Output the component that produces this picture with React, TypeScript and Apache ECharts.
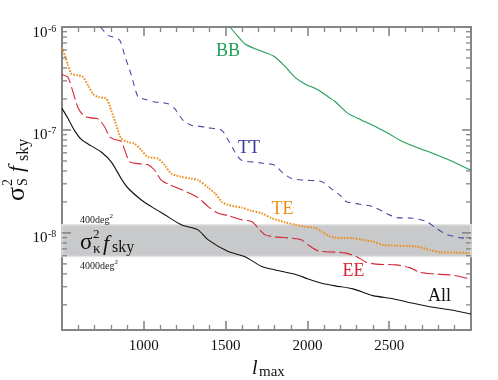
import React, { useEffect, useRef } from 'react';
import * as echarts from 'echarts';

const FONT = '"Liberation Serif", "Times New Roman", serif';

const X_MIN = 500;
const X_MAX = 3000;
const X_INTERVAL = 500;
const Y_MIN = 1.14e-9;
const Y_MAX = 1e-6;
const Y_LABEL_EXPONENTS = [-8, -7, -6];

const allL = [500, 537, 578, 618, 679, 740, 801, 862, 903, 985, 1046, 1128, 1229, 1331, 1394, 1516, 1619, 1721, 1802, 1924, 2005, 2087, 2169, 2279, 2401, 2523, 2645, 2747, 2870, 3000];
const allV = [1.62e-7, 1.29e-7, 9.8e-8, 8.1e-8, 7.0e-8, 6.1e-8, 4.9e-8, 3.37e-8, 2.73e-8, 2.09e-8, 1.8e-8, 1.5e-8, 1.2e-8, 1.07e-8, 8.55e-9, 6.58e-9, 5.88e-9, 4.71e-9, 4.37e-9, 3.97e-9, 3.57e-9, 3.25e-9, 3.06e-9, 2.86e-9, 2.46e-9, 2.29e-9, 2.07e-9, 1.92e-9, 1.79e-9, 1.63e-9];

const eeL = [500, 537, 567, 598, 634, 677, 720, 761, 792, 822, 862, 883, 914, 965, 1026, 1067, 1107, 1160, 1209, 1262, 1331, 1394, 1455, 1516, 1598, 1659, 1700, 1741, 1802, 1904, 1965, 2005, 2067, 2169, 2238, 2299, 2360, 2421, 2543, 2625, 2686, 2768, 2870, 2931, 3000];
const eeV = [3.46e-7, 3.23e-7, 2.34e-7, 1.64e-7, 1.37e-7, 1.31e-7, 1.28e-7, 1.07e-7, 8.55e-8, 8.09e-8, 7.73e-8, 6.4e-8, 4.89e-8, 4.71e-8, 4.6e-8, 4.06e-8, 3.25e-8, 2.92e-8, 2.72e-8, 2.5e-8, 2.2e-8, 1.8e-8, 1.55e-8, 1.47e-8, 1.34e-8, 1.29e-8, 1.11e-8, 9.57e-9, 9.15e-9, 8.89e-9, 8.55e-9, 7.64e-9, 6.68e-9, 6.5e-9, 6.36e-9, 5.89e-9, 5.2e-9, 4.97e-9, 4.89e-9, 4.6e-9, 4.15e-9, 4.0e-9, 3.91e-9, 3.77e-9, 3.55e-9];

const teL = [500, 517, 537, 557, 598, 628, 659, 689, 720, 771, 801, 832, 862, 903, 944, 985, 1026, 1087, 1128, 1168, 1229, 1290, 1331, 1394, 1435, 1476, 1516, 1598, 1659, 1721, 1782, 1863, 1924, 1985, 2046, 2087, 2128, 2169, 2279, 2340, 2401, 2462, 2543, 2666, 2747, 2809, 2910, 3000];
const teV = [6.32e-7, 5.31e-7, 4.25e-7, 3.52e-7, 3.4e-7, 3.27e-7, 2.72e-7, 2.25e-7, 2.09e-7, 2.01e-7, 1.55e-7, 1.11e-7, 8.24e-8, 7.64e-8, 7.36e-8, 6.35e-8, 5.47e-8, 5.26e-8, 4.54e-8, 3.77e-8, 3.5e-8, 3.37e-8, 3.27e-8, 2.75e-8, 2.43e-8, 2.01e-8, 1.87e-8, 1.76e-8, 1.64e-8, 1.55e-8, 1.39e-8, 1.27e-8, 1.2e-8, 1.15e-8, 1.12e-8, 1.03e-8, 9.42e-9, 9.0e-9, 8.89e-9, 8.55e-9, 8.24e-9, 7.64e-9, 7.53e-9, 7.36e-9, 6.84e-9, 6.5e-9, 6.44e-9, 6.35e-9];

const ttL = [735, 781, 812, 853, 883, 924, 965, 1005, 1067, 1148, 1189, 1240, 1290, 1331, 1394, 1476, 1516, 1557, 1598, 1721, 1802, 1843, 1904, 1985, 2087, 2156, 2197, 2238, 2320, 2401, 2482, 2543, 2645, 2727, 2788, 2849, 2931, 3000];
const ttV = [1.0e-6, 8.3e-7, 8.0e-7, 7.43e-7, 5.31e-7, 3.4e-7, 2.09e-7, 1.99e-7, 1.87e-7, 1.8e-7, 1.61e-7, 1.24e-7, 1.11e-7, 1.09e-7, 1.05e-7, 9.93e-8, 7.94e-8, 6.11e-8, 5.08e-8, 4.78e-8, 4.54e-8, 3.91e-8, 3.37e-8, 3.25e-8, 3.15e-8, 2.61e-8, 2.34e-8, 2.01e-8, 1.9e-8, 1.8e-8, 1.55e-8, 1.41e-8, 1.39e-8, 1.29e-8, 1.11e-8, 9.7e-9, 9.0e-9, 8.79e-9];

const bbL = [1527, 1578, 1619, 1669, 1741, 1802, 1863, 1924, 1985, 2067, 2128, 2169, 2248, 2329, 2421, 2493, 2574, 2666, 2768, 2870, 3000];
const bbV = [1.0e-6, 8.0e-7, 6.84e-7, 6.25e-7, 5.65e-7, 5.12e-7, 4.14e-7, 3.24e-7, 2.8e-7, 2.44e-7, 2.09e-7, 1.89e-7, 1.45e-7, 1.25e-7, 1.07e-7, 9.29e-8, 7.82e-8, 6.79e-8, 5.91e-8, 5.08e-8, 4.05e-8];

const BAND_LOW = 5.9e-9;
const BAND_HIGH = 1.2e-8;

const AXIS_GRAY = '#858585';
const C_BB = '#1f9e55';
const C_TT = '#3a3a9a';
const C_TE = '#ef8d1c';
const C_EE = '#d62535';
const C_ALL = '#111111';

const zip = (xs: number[], ys: number[]) => xs.map((x, i) => [x, ys[i]]);

function xAxisCfg(position: 'bottom' | 'top') {
  return {
    type: 'value',
    position,
    min: X_MIN,
    max: X_MAX,
    interval: X_INTERVAL,
    axisLine: { show: true, onZero: false, lineStyle: { color: AXIS_GRAY, width: 2 } },
    axisTick: { show: true, inside: true, length: 9, lineStyle: { color: AXIS_GRAY, width: 1.6 } },
    minorTick: { show: true, splitNumber: 5, length: 5, lineStyle: { color: AXIS_GRAY, width: 1.3 } },
    axisLabel: {
      show: position === 'bottom',
      showMinLabel: false,
      showMaxLabel: false,
      margin: 7,
      fontFamily: FONT,
      fontSize: 15,
      color: '#111',
      formatter: (v: number) => String(v),
    },
    splitLine: { show: false },
    minorSplitLine: { show: false },
  };
}

function yAxisCfg(position: 'left' | 'right') {
  return {
    type: 'log',
    logBase: 10,
    position,
    min: Y_MIN,
    max: Y_MAX,
    axisLine: { show: true, onZero: false, lineStyle: { color: AXIS_GRAY, width: 2 } },
    axisTick: { show: false },
    axisLabel: { show: false },
    splitLine: { show: false },
  };
}

function lineSeries(name: string, xs: number[], ys: number[], color: string, type: any, width: number, z: number) {
  return {
    name,
    type: 'line',
    data: zip(xs, ys),
    showSymbol: false,
    symbol: 'none',
    smooth: 0.25,
    clip: true,
    z,
    lineStyle: { color, width, type, cap: 'butt' },
  };
}

export default function App() {
  const ref = useRef<HTMLDivElement>(null);
  useEffect(() => {
    const chart = echarts.init(ref.current!, null, { renderer: 'svg' });
    const option: any = {
      animation: false,
      grid: { left: 62, right: 27, top: 27, bottom: 50 },
      xAxis: [xAxisCfg('bottom'), xAxisCfg('top')],
      yAxis: [yAxisCfg('left'), yAxisCfg('right')],
      series: [
        {
          ...lineSeries('All', allL, allV, C_ALL, 'solid', 1.1, 6),
          markArea: {
            silent: true,
            z: 1,
            itemStyle: { color: '#c8c9cb', borderColor: '#e4e4e4', borderWidth: 1.5 },
            label: { show: false },
            data: [[{ xAxis: X_MIN, yAxis: BAND_LOW }, { xAxis: X_MAX, yAxis: BAND_HIGH }]],
          },
        },
        lineSeries('BB', bbL, bbV, C_BB, 'solid', 1.1, 5),
        lineSeries('TT', ttL, ttV, '#4b4ba8', [6, 5], 1.1, 5),
        lineSeries('TE', teL, teV, C_TE, [1.6, 1.4], 2, 5),
        lineSeries('EE', eeL, eeV, C_EE, [13, 4], 1.1, 5),
      ],
    };
    chart.setOption(option);

    const px = (v: number) => chart.convertToPixel({ xAxisIndex: 0 }, v) as number;
    const py = (v: number) => chart.convertToPixel({ yAxisIndex: 0 }, v) as number;
    const gx0 = px(X_MIN);
    const gx1 = px(X_MAX);

    const els: any[] = [];
    for (let e = -9; e <= -6; e++) {
      for (let k = 1; k <= 9; k++) {
        const v = k * Math.pow(10, e);
        if (v < Y_MIN * 0.999 || v > Y_MAX * 1.001) continue;
        const y = py(v);
        const len = k === 1 ? 9 : 5;
        const w = k === 1 ? 1.6 : 1.3;
        els.push({ type: 'line', silent: true, z: 50, shape: { x1: gx0, y1: y, x2: gx0 + len, y2: y }, style: { stroke: AXIS_GRAY, lineWidth: w } });
        els.push({ type: 'line', silent: true, z: 50, shape: { x1: gx1 - len, y1: y, x2: gx1, y2: y }, style: { stroke: AXIS_GRAY, lineWidth: w } });
      }
    }
    Y_LABEL_EXPONENTS.forEach((e) => {
      const y = py(Math.pow(10, e));
      els.push({ type: 'text', silent: true, z: 50, x: 47.5, y: y + 4.5, style: { text: '10', fontFamily: FONT, fontSize: 15, fill: '#111', align: 'right', verticalAlign: 'middle' } });
      els.push({ type: 'text', silent: true, z: 50, x: 48, y: y + 1, style: { text: '-' + String(-e), fontFamily: FONT, fontSize: 10, fill: '#111', align: 'left', verticalAlign: 'middle' } });
    });

    const lab = (text: string, x: number, y: number, fill: string) => ({
      type: 'text', silent: true, z: 50, x, y, style: { text, fontFamily: FONT, fontSize: 18, fill, align: 'center', verticalAlign: 'middle' },
    });
    els.push(lab('BB', 228, 50, C_BB));
    els.push(lab('TT', 249, 146.5, C_TT));
    els.push(lab('TE', 282.5, 207.5, C_TE));
    els.push(lab('EE', 353.5, 269.5, C_EE));
    els.push(lab('All', 439.5, 294.5, C_ALL));

    const bandTop = py(BAND_HIGH);
    const bandBot = py(BAND_LOW);
    const smallRich = {
      a: { fontFamily: FONT, fontSize: 10, fill: '#222', lineHeight: 12, verticalAlign: 'bottom' },
      s: { fontFamily: FONT, fontSize: 7, fill: '#222', lineHeight: 7, verticalAlign: 'top' },
    };
    els.push({ type: 'text', silent: true, z: 50, x: 80, y: bandTop - 6, style: { text: '{a|400deg}{s|2}', rich: smallRich, align: 'left', verticalAlign: 'middle' } });
    els.push({ type: 'text', silent: true, z: 50, x: 80, y: bandBot + 8, style: { text: '{a|4000deg}{s|2}', rich: smallRich, align: 'left', verticalAlign: 'middle' } });
    const t = (text: string, x: number, y: number, size: number, italic = false) => ({
      type: 'text', silent: true, z: 50, x, y,
      style: { text, fontFamily: FONT, fontSize: size, fontStyle: italic ? 'italic' : 'normal', fill: '#111', align: 'left', verticalAlign: 'middle' },
    });
    els.push(t('σ', 80, 241.5, 23));
    els.push(t('2', 93, 233, 13));
    els.push(t('κ', 93, 248, 15));
    els.push(t('f', 103, 242.5, 22, true));
    els.push(t('sky', 112, 246.5, 16));

    els.push({
      type: 'group', x: 23, y: 201, rotation: Math.PI / 2, silent: true, z: 50,
      children: [
        t('σ', 0, -8, 26),
        t('2', 15, -16, 14),
        t('S', 15, -0.5, 14),
        t('f', 29, -7.5, 22, true),
        t('sky', 40, -1, 16),
      ],
    });

    els.push(t('l', 252, 366.5, 20, true));
    els.push(t('max', 259, 370.5, 15));

    chart.setOption({ graphic: { elements: els } });
    return () => chart.dispose();
  }, []);
  return <div ref={ref} style={{ position: 'fixed', left: 0, top: 0, width: 498, height: 380 }} />;
}
